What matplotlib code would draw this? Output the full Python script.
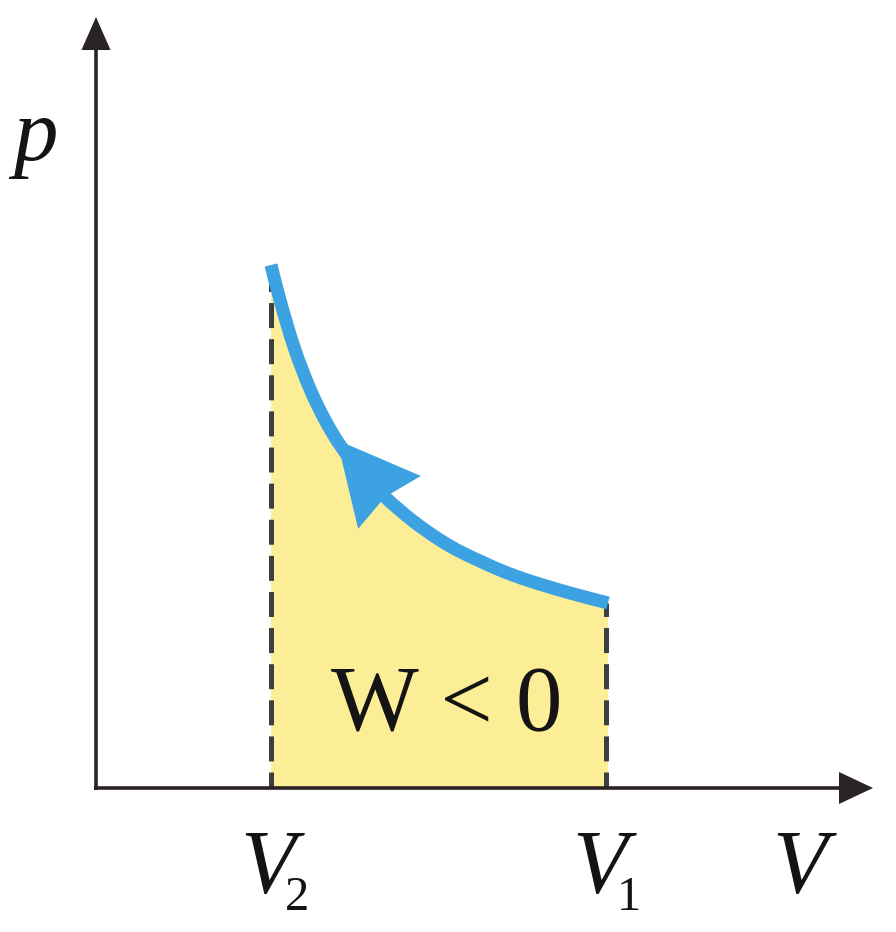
import matplotlib
matplotlib.use("Agg")
import matplotlib.pyplot as plt
from matplotlib.patches import Polygon, PathPatch
from matplotlib.path import Path
import numpy as np

plt.rcParams['lines.scale_dashes'] = False

# ---- data (diagram units) ----
V_curve = [1.75, 1.84, 1.98, 2.14, 2.29, 2.44, 2.64, 2.89, 3.17, 3.44, 3.67, 4.04, 4.34, 4.74, 5.12]
p_curve = [5.23, 4.88, 4.41, 3.99, 3.68, 3.43, 3.17, 2.91, 2.67, 2.48, 2.35, 2.18, 2.07, 1.95, 1.85]
V2_val = 1.75
V1_val = 5.10
tick_names = ["V", "V", "V"]
tick_subs = ["2", "1", ""]
work_label = "W < 0"
p_label = "p"

# ---- styles ----
AX_COLOR = "#2a2326"
BLUE = "#3CA2E2"
YELLOW = "#FCEE97"
DASH = "#3a3f3f"
TXT = "#141414"

fig = plt.figure(figsize=(8.96, 9.32), dpi=100)
W, H = 896, 932
ox, oy = 96, 788
ax = fig.add_axes([ox / W, (H - oy) / H, (W - ox) / W, oy / H])
ax.set_xlim(0, (W - ox) / 100)
ax.set_ylim(0, oy / 100)
ax.axis("off")

P = np.column_stack([V_curve, p_curve])


def smooth_path_parts(P):
    """Catmull-Rom through the data points, expressed as cubic Bezier segments."""
    verts = [P[0]]
    codes = [Path.MOVETO]
    n = len(P)
    for i in range(n - 1):
        p0 = P[max(i - 1, 0)]
        p1 = P[i]
        p2 = P[i + 1]
        p3 = P[min(i + 2, n - 1)]
        c1 = p1 + (p2 - p0) / 6.0
        c2 = p2 - (p3 - p1) / 6.0
        verts += [c1, c2, p2]
        codes += [Path.CURVE4] * 3
    return verts, codes


cv, cc = smooth_path_parts(P)

# fill under curve
fv = list(cv) + [np.array([P[-1, 0], 0.0]), np.array([P[0, 0], 0.0]), P[0]]
fc = list(cc) + [Path.LINETO, Path.LINETO, Path.CLOSEPOLY]
ax.add_patch(PathPatch(Path(fv, fc), facecolor=YELLOW, lw=0, zorder=1))

# dashed verticals
for Vx, ptop in [(V2_val, p_curve[0]), (V1_val, p_curve[-1])]:
    ax.plot([Vx, Vx], [0, ptop], color=DASH, lw=3.6,
            linestyle=(6.5, (18, 8)), solid_capstyle='butt',
            dash_capstyle='butt', zorder=2, clip_on=False)

# curve
ax.add_patch(PathPatch(Path(cv, cc), facecolor='none', edgecolor=BLUE,
                       lw=9.4, capstyle='butt', joinstyle='round', zorder=3))

# arrowhead along the curve
tip = P[5] + np.array([-0.03, 0.05])
notch = P[7]
d = tip - notch
d = d / np.hypot(*d)
perp = np.array([d[1], -d[0]])
back = notch - d * 0.07
c1 = back + perp * 0.41
c2 = back - perp * 0.41
ax.add_patch(Polygon([tip, c1, notch, c2], closed=True, color=BLUE,
                     lw=0, zorder=4))

# axes with arrowheads
xmax = 7.77
ymax = 7.71
hl_x, hw_x = 0.34, 0.16
hl_y, hw_y = 0.33, 0.145
ax.plot([-0.02, xmax - hl_x + 0.02], [0, 0], color=AX_COLOR, lw=2.6,
        solid_capstyle='butt', zorder=5, clip_on=False)
ax.plot([0, 0], [-0.02, ymax - hl_y + 0.02], color=AX_COLOR, lw=2.6,
        solid_capstyle='butt', zorder=5, clip_on=False)
ax.add_patch(Polygon([[xmax, 0], [xmax - hl_x, hw_x], [xmax - hl_x, -hw_x]],
                     closed=True, color=AX_COLOR, lw=0, zorder=5, clip_on=False))
ax.add_patch(Polygon([[0, ymax], [-hw_y, ymax - hl_y], [hw_y, ymax - hl_y]],
                     closed=True, color=AX_COLOR, lw=0, zorder=5, clip_on=False))

serif = ["Liberation Serif", "DejaVu Serif"]
# p label
ax.text(-0.83, 6.28, p_label, fontsize=64, fontfamily=serif, fontstyle='italic',
        ha='left', va='baseline', color=TXT, clip_on=False)

# V labels
label_pos = [V2_val - 0.03, V1_val - 0.06, 7.04]
for xv, name, sub in zip(label_pos, tick_names, tick_subs):
    ax.text(xv, -1.05, name, fontsize=65, fontfamily=serif, fontstyle='italic',
            ha='center', va='baseline', color=TXT, clip_on=False)
    if sub:
        ax.text(xv + 0.29, -1.22, sub, fontsize=35, fontfamily=serif,
                ha='center', va='baseline', color=TXT, clip_on=False)

# work label
ax.text(3.51, 0.58, work_label, fontsize=67, fontfamily=serif,
        ha='center', va='baseline', color=TXT, zorder=6)

fig.savefig("out.png", dpi=100, facecolor="white")
